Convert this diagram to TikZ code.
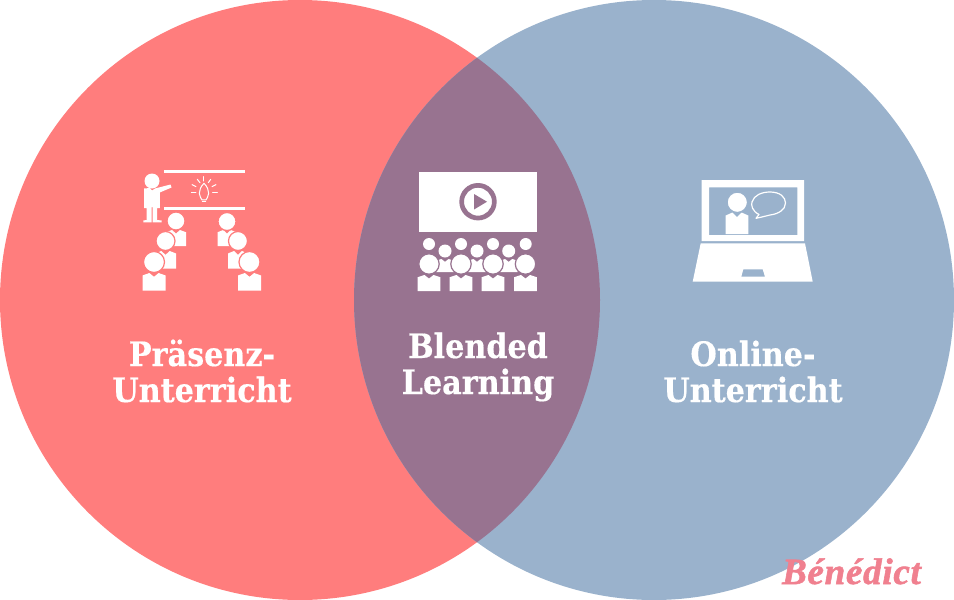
\documentclass[tikz,border=0pt]{standalone}
\usepackage{fontspec}
\newfontfamily\lab{DejaVu Serif Condensed}[BoldFont=DejaVu Serif Condensed Bold,BoldFeatures={FakeBold=0.4}]
\newfontfamily\logo{Liberation Serif}[BoldItalicFont=Liberation Serif Bold Italic,BoldItalicFeatures={FakeBold=1.5,LetterSpace=2}]
\definecolor{redc}{HTML}{FF7D7D}
\definecolor{bluec}{HTML}{9AB2CC}
\definecolor{midc}{HTML}{987390}
\definecolor{logoc}{HTML}{F0808F}
\tikzset{
  vlabel/.style={text=white,font=\lab\bfseries\fontsize{33.6}{36}\selectfont,align=center,anchor=base,inner sep=0pt},
  thinw/.style={draw=white,line width=1pt,line cap=round,line join=round}
}
% torso: centre x, top y, half width, height
\newcommand\torsoshape[4]{\begin{scope}[shift={(#1,#2)},xscale=#3,yscale=#4]
 \fill[white] (-1,.14) -- (-.4,0) -- (0,.22) -- (.4,0) -- (1,.14) -- (1,1) -- (-1,1) -- cycle;
 \end{scope}}
% head with ring: x,y,r,ring colour
\newcommand\headring[4]{\fill[white,draw=#4,line width=1.2pt] (#1,#2) circle (#3);}
\begin{document}
\begin{tikzpicture}[x=1pt,y=-1pt]
\useasboundingbox (0,0) rectangle (954,600);
\fill[redc] (300,300) circle (300);
\fill[bluec] (654,300) circle (300);
\begin{scope}
 \clip (300,300) circle (300);
 \fill[midc] (654,300) circle (300);
\end{scope}

% icon left
\fill[white] (164,169.5) rectangle (245,172.5);
\fill[white] (164,206.7) rectangle (245,209.7);
\fill[white] (152,181) circle (7.5);
\fill[white] (144,188.5) -- (150,188) -- (152,190.5) -- (155,188.5) -- (170.5,184.5) -- (171.5,187.5) -- (159.8,192.5) -- (159.8,208) -- (157,208) -- (157,220) -- (161.7,220.5) -- (161.7,222.3) -- (152.6,222.3) -- (152.6,207) -- (151.5,207) -- (151.5,222.3) -- (143.3,222.3) -- (143.3,220.5) -- (146.5,220) -- (146.5,208) -- (144,208) -- cycle;
\begin{scope}[shift={(120,160)},x=.3333pt,y=-.3333pt]
 \draw[thinw] (252,70) .. controls (262,80) and (266,90) .. (266,100) .. controls (266,110) and (260,114) .. (258,120) -- (246,120) .. controls (244,114) and (238,110) .. (238,100) .. controls (238,90) and (242,80) .. (252,70) -- cycle;
 \draw[thinw] (247,125) -- (257,125);
 \draw[thinw] (252,50) -- (252,63);
 \draw[thinw] (232,58) -- (240,68);
 \draw[thinw] (272,58) -- (265,68);
 \draw[thinw] (216,74) -- (228,80);
 \draw[thinw] (288,74) -- (276,80);
 \draw[thinw] (214,97) -- (228,97);
 \draw[thinw] (292,97) -- (278,97);
\end{scope}
\torsoshape{176}{230}{10}{16}
\headring{176}{221}{9}{redc}
\torsoshape{165.5}{251}{10.5}{17.5}
\headring{165.5}{241}{9.5}{redc}
\torsoshape{154}{273}{11.5}{17.5}
\headring{154}{262}{10.5}{redc}
\torsoshape{227}{230}{9.5}{16}
\headring{227}{221.5}{9}{redc}
\torsoshape{238}{251}{10}{17.5}
\headring{238}{241}{9.5}{redc}
\torsoshape{249.5}{273}{11.5}{17.5}
\headring{249.5}{262}{10.5}{redc}

% icon middle
\fill[white] (418.5,172) rectangle (536.5,232);
\fill[midc,even odd rule] (478,201.7) circle (18.7) (478,201.7) circle (14);
\fill[midc] (474,194) -- (487,201.7) -- (474,209.5) -- cycle;
\foreach \xx in {429,461,493,525.7} {\fill[white] (\xx,244) circle (6);}
\foreach \xx in {445,477,508.7} {
 \fill[white] (\xx,251) circle (6.5);
 \torsoshape{\xx}{259}{9}{13}
}
\foreach \xx in {429,461,493,525.5} {
 \headring{\xx}{264}{10.2}{midc}
 \torsoshape{\xx}{275}{11.3}{16}
}

% icon right
\fill[white,even odd rule] (701.7,180) rectangle (804,241) (709,187.3) rectangle (797.3,235);
\fill[white,even odd rule] (700.7,243.3) -- (805,243.3) -- (812.7,281.7) -- (692.7,281.7) -- cycle
 (743.3,269.3) -- (762.7,269.3) -- (765,276.7) -- (741.3,276.7) -- cycle;
\torsoshape{737}{212.5}{11.3}{21.5}
\headring{737.3}{202.3}{10.2}{bluec}
\draw[white,line width=1.2pt,line join=round] (759,214.5) .. controls (752,211) and (751,205) .. (752,202) .. controls (754,195) and (762,192) .. (770,192) .. controls (780,192) and (785.5,197) .. (785.5,203) .. controls (785.5,210) and (778,214) .. (770,215) .. controls (766,216) and (760,217.5) .. (756,218.3) -- cycle;

% labels
\node[vlabel] (praesenz) at (202,366) {Präsenz-};
\node[vlabel] (unterrichtl) at (202,402) {Unterricht};
\node[vlabel] (blended) at (478,358) {Blended};
\node[vlabel] (learning) at (478,394) {Learning};
\node[vlabel] (online) at (753,366) {Online-};
\node[vlabel] (unterrichtr) at (753,402) {Unterricht};
\node[text=logoc,font=\logo\bfseries\itshape\fontsize{37}{37}\selectfont,anchor=base,inner sep=0pt] (logo) at (851.5,584) {Bénédict};
\end{tikzpicture}
\end{document}
